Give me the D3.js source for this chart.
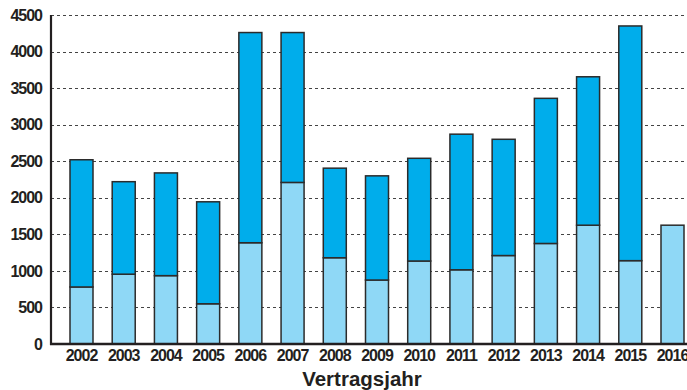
<!DOCTYPE html>
<html>
<head>
<meta charset="utf-8">
<script src="https://cdn.jsdelivr.net/npm/d3@7"></script>
<style>
  html, body { margin: 0; padding: 0; background: #fff; }
  svg { display: block; }
  text { font-family: "Liberation Sans", Arial, sans-serif; font-weight: bold; fill: #231f20; }
</style>
</head>
<body>
<script>
// Vertragsjahre
const years = ["2002","2003","2004","2005","2006","2007","2008","2009","2010","2011","2012","2013","2014","2015","2016"];
// untere (hellblaue) Anteile je Jahr
const lowerValues = [780, 955, 935, 550, 1385, 2210, 1180, 875, 1135, 1015, 1210, 1375, 1625, 1140, 1625];
// obere (dunkelblaue) Anteile je Jahr
const upperValues = [1740, 1265, 1405, 1395, 2875, 2050, 1225, 1425, 1405, 1855, 1590, 1985, 2030, 3210, 0];
// y-Achsen-Ticks
const yTicks = [0, 500, 1000, 1500, 2000, 2500, 3000, 3500, 4000, 4500];

const W = 687, H = 390;
const margin = { left: 51, top: 15, bottom: 46 };
const y0 = H - margin.bottom; // 344

const svg = d3.select("body").append("svg").attr("width", W).attr("height", H);

const y = d3.scaleLinear().domain([0, 4500]).range([y0, margin.top]);
const x = d3.scaleBand().domain(years).range([margin.left, 703]).paddingInner(0.455).paddingOuter(0.45);

// Gitternetzlinien
svg.append("g").selectAll("line").data(yTicks.filter(d => d > 0)).join("line")
  .attr("x1", margin.left).attr("x2", W)
  .attr("y1", d => Math.round(y(d)) + 0.5).attr("y2", d => Math.round(y(d)) + 0.5)
  .attr("stroke", "#444").attr("stroke-width", 1.2).attr("stroke-dasharray", "3,3");

// gestapelte Balken
const rows = years.map((yr, i) => ({ year: yr, lower: lowerValues[i], upper: upperValues[i] }));
const stack = d3.stack().keys(["lower", "upper"])(rows);
const colors = { lower: "#8fd8f6", upper: "#00adeb" };

stack.forEach(layer => {
  svg.append("g").selectAll("rect").data(layer.filter(d => d[1] > d[0])).join("rect")
    .attr("x", d => x(d.data.year))
    .attr("width", x.bandwidth())
    .attr("y", d => y(d[1]))
    .attr("height", d => y(d[0]) - y(d[1]))
    .attr("fill", colors[layer.key])
    .attr("stroke", "#2b2b2b").attr("stroke-width", 1.5);
});

// Achsen
const styleTicks = sel => sel.selectAll("text")
  .attr("font-size", 16).attr("letter-spacing", "-1px")
  .style("font-family", "'Liberation Sans', Arial, sans-serif")
  .attr("font-weight", "bold").attr("fill", "#231f20");

const yAxis = d3.axisLeft(y).tickValues(yTicks).tickFormat(d3.format("d")).tickSize(0).tickPadding(9);
const gy = svg.append("g").attr("transform", `translate(${margin.left},0)`).call(yAxis);
gy.select(".domain").remove();
styleTicks(gy);

const xAxis = d3.axisBottom(x).tickSize(0).tickPadding(6);
const gx = svg.append("g").attr("transform", `translate(0,${y0})`).call(xAxis);
gx.select(".domain").remove();
styleTicks(gx);

svg.append("line").attr("x1", margin.left).attr("x2", margin.left)
  .attr("y1", margin.top).attr("y2", y0 + 1)
  .attr("stroke", "#231f20").attr("stroke-width", 2.2);
svg.append("line").attr("x1", margin.left - 1).attr("x2", W)
  .attr("y1", y0).attr("y2", y0)
  .attr("stroke", "#231f20").attr("stroke-width", 2.5);

// Achsentitel
svg.append("text").attr("x", 362).attr("y", 386).attr("text-anchor", "middle")
  .attr("font-size", 20.5).text("Vertragsjahr");
</script>
</body>
</html>
